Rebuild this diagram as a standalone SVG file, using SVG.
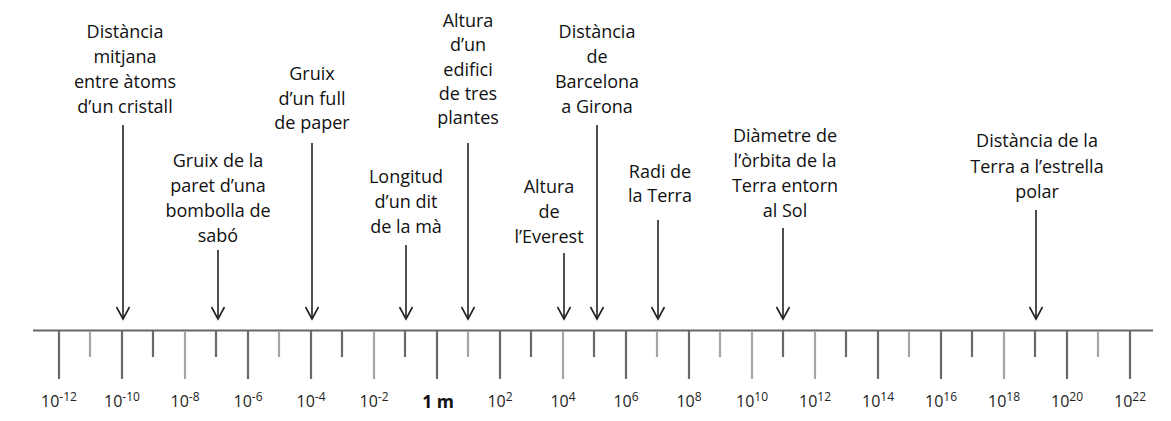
<svg xmlns="http://www.w3.org/2000/svg" width="1171" height="421" viewBox="0 0 1171 421">
<style>
.lbl{font-family:"Open Sans","Liberation Sans",sans-serif;font-size:18px;fill:#111;text-anchor:middle}
.ax{font-family:"Open Sans","Liberation Sans",sans-serif;font-size:16px;fill:#222;text-anchor:middle}
.sup{font-size:12px}
.arr{stroke:#222;stroke-width:1.6;fill:none;marker-end:url(#v)}
.tk{stroke-width:2.2}
.d{stroke:#6a6a6a}
.l{stroke:#a5a5a5}
</style>
<defs>
<marker id="v" markerUnits="userSpaceOnUse" markerWidth="16" markerHeight="16" viewBox="-8 -14 16 16" refX="0" refY="0" orient="0">
<path d="M-6.5,-12 L0,0 L6.5,-12" fill="none" stroke="#222" stroke-width="1.6"/>
</marker>
</defs>
<rect width="1171" height="421" fill="#fff"/>
<g id="axis">
<line x1="33" y1="330.5" x2="1153" y2="330.5" stroke="#666" stroke-width="2"/>
<g class="tk">
<line class="d" x1="59" y1="331" x2="59" y2="379"/>
<line class="d" x1="122" y1="331" x2="122" y2="379"/>
<line class="l" x1="185" y1="331" x2="185" y2="379"/>
<line class="d" x1="248" y1="331" x2="248" y2="379"/>
<line class="d" x1="311" y1="331" x2="311" y2="379"/>
<line class="l" x1="374" y1="331" x2="374" y2="379"/>
<line class="d" x1="437" y1="331" x2="437" y2="379"/>
<line class="d" x1="500" y1="331" x2="500" y2="379"/>
<line class="l" x1="563" y1="331" x2="563" y2="379"/>
<line class="d" x1="626" y1="331" x2="626" y2="379"/>
<line class="d" x1="689" y1="331" x2="689" y2="379"/>
<line class="l" x1="752" y1="331" x2="752" y2="379"/>
<line class="l" x1="815" y1="331" x2="815" y2="379"/>
<line class="d" x1="878" y1="331" x2="878" y2="379"/>
<line class="d" x1="941" y1="331" x2="941" y2="379"/>
<line class="l" x1="1004" y1="331" x2="1004" y2="379"/>
<line class="d" x1="1067" y1="331" x2="1067" y2="379"/>
<line class="d" x1="1130" y1="331" x2="1130" y2="379"/>
<line class="l" x1="90" y1="331" x2="90" y2="357"/>
<line class="d" x1="153" y1="331" x2="153" y2="357"/>
<line class="d" x1="216" y1="331" x2="216" y2="357"/>
<line class="l" x1="279" y1="331" x2="279" y2="357"/>
<line class="d" x1="342" y1="331" x2="342" y2="357"/>
<line class="d" x1="405" y1="331" x2="405" y2="357"/>
<line class="l" x1="468" y1="331" x2="468" y2="357"/>
<line class="d" x1="531" y1="331" x2="531" y2="357"/>
<line class="d" x1="594" y1="331" x2="594" y2="357"/>
<line class="l" x1="657" y1="331" x2="657" y2="357"/>
<line class="l" x1="720" y1="331" x2="720" y2="357"/>
<line class="d" x1="783" y1="331" x2="783" y2="357"/>
<line class="d" x1="846" y1="331" x2="846" y2="357"/>
<line class="l" x1="909" y1="331" x2="909" y2="357"/>
<line class="d" x1="972" y1="331" x2="972" y2="357"/>
<line class="d" x1="1035" y1="331" x2="1035" y2="357"/>
<line class="l" x1="1098" y1="331" x2="1098" y2="357"/>
</g>
<g class="ax">
<text x="59" y="407">10<tspan class="sup" dy="-6">-12</tspan></text>
<text x="122" y="407">10<tspan class="sup" dy="-6">-10</tspan></text>
<text x="185" y="407">10<tspan class="sup" dy="-6">-8</tspan></text>
<text x="248" y="407">10<tspan class="sup" dy="-6">-6</tspan></text>
<text x="311" y="407">10<tspan class="sup" dy="-6">-4</tspan></text>
<text x="374" y="407">10<tspan class="sup" dy="-6">-2</tspan></text>
<text x="438" y="408" font-weight="bold" font-size="17.5" fill="#111">1 m</text>
<text x="500" y="407">10<tspan class="sup" dy="-6">2</tspan></text>
<text x="563" y="407">10<tspan class="sup" dy="-6">4</tspan></text>
<text x="626" y="407">10<tspan class="sup" dy="-6">6</tspan></text>
<text x="689" y="407">10<tspan class="sup" dy="-6">8</tspan></text>
<text x="752" y="407">10<tspan class="sup" dy="-6">10</tspan></text>
<text x="815" y="407">10<tspan class="sup" dy="-6">12</tspan></text>
<text x="878" y="407">10<tspan class="sup" dy="-6">14</tspan></text>
<text x="941" y="407">10<tspan class="sup" dy="-6">16</tspan></text>
<text x="1004" y="407">10<tspan class="sup" dy="-6">18</tspan></text>
<text x="1067" y="407">10<tspan class="sup" dy="-6">20</tspan></text>
<text x="1130" y="407">10<tspan class="sup" dy="-6">22</tspan></text>
</g>
</g>
<g id="connectors">
<line class="arr" x1="123" y1="125" x2="123" y2="319"/>
<line class="arr" x1="218" y1="250" x2="218" y2="319"/>
<line class="arr" x1="312" y1="143" x2="312" y2="319"/>
<line class="arr" x1="406" y1="245" x2="406" y2="319"/>
<line class="arr" x1="468" y1="143" x2="468" y2="319"/>
<line class="arr" x1="564" y1="253" x2="564" y2="319"/>
<line class="arr" x1="597" y1="125" x2="597" y2="319"/>
<line class="arr" x1="658" y1="220" x2="658" y2="319"/>
<line class="arr" x1="783" y1="228" x2="783" y2="319"/>
<line class="arr" x1="1036" y1="210" x2="1036" y2="319"/>
</g>
<g id="n-atoms" class="lbl">
<text x="125" y="38">Distància</text>
<text x="125" y="63">mitjana</text>
<text x="125" y="88">entre àtoms</text>
<text x="125" y="113">d’un cristall</text>
</g>
<g id="n-bombolla" class="lbl">
<text x="218" y="167">Gruix de la</text>
<text x="218" y="192">paret d’una</text>
<text x="218" y="217">bombolla de</text>
<text x="218" y="242">sabó</text>
</g>
<g id="n-paper" class="lbl">
<text x="312" y="80">Gruix</text>
<text x="312" y="105">d’un full</text>
<text x="312" y="129">de paper</text>
</g>
<g id="n-dit" class="lbl">
<text x="406" y="183">Longitud</text>
<text x="406" y="208">d’un dit</text>
<text x="406" y="233">de la mà</text>
</g>
<g id="n-edifici" class="lbl">
<text x="468" y="27">Altura</text>
<text x="468" y="51">d’un</text>
<text x="468" y="76">edifici</text>
<text x="468" y="100">de tres</text>
<text x="468" y="124">plantes</text>
</g>
<g id="n-everest" class="lbl">
<text x="549" y="193">Altura</text>
<text x="549" y="218">de</text>
<text x="549" y="243">l’Everest</text>
</g>
<g id="n-girona" class="lbl">
<text x="597" y="38">Distància</text>
<text x="597" y="63">de</text>
<text x="597" y="88">Barcelona</text>
<text x="597" y="113">a Girona</text>
</g>
<g id="n-terra" class="lbl">
<text x="660" y="178">Radi de</text>
<text x="660" y="202">la Terra</text>
</g>
<g id="n-orbita" class="lbl">
<text x="785" y="142">Diàmetre de</text>
<text x="785" y="167">l’òrbita de la</text>
<text x="785" y="192">Terra entorn</text>
<text x="785" y="217">al Sol</text>
</g>
<g id="n-polar" class="lbl">
<text x="1037" y="147">Distància de la</text>
<text x="1037" y="173">Terra a l’estrella</text>
<text x="1037" y="198">polar</text>
</g>
</svg>
